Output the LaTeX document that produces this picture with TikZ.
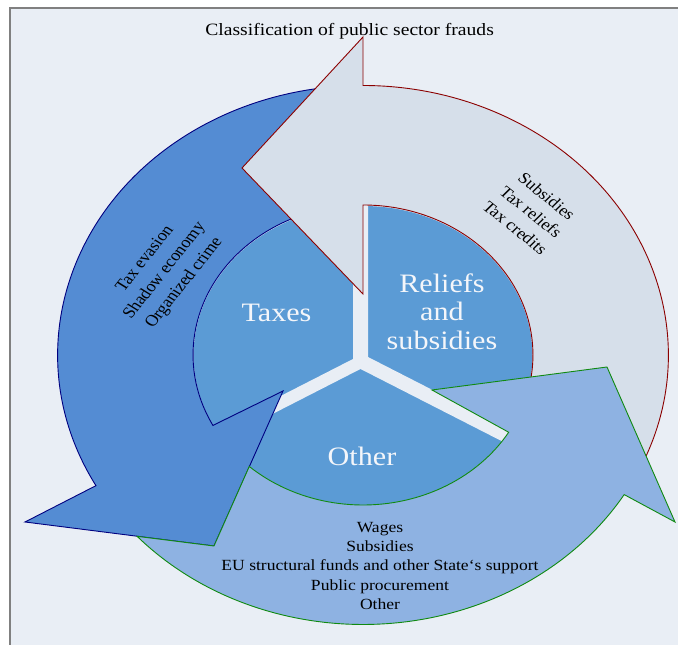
\documentclass[tikz,border=0pt]{standalone}
\usepackage{fontspec}
\setmainfont{Liberation Serif}
\definecolor{bgc}{HTML}{E9EEF5}
\definecolor{framec}{HTML}{808080}
\definecolor{sectc}{HTML}{5B9BD5}
\definecolor{bluefill}{HTML}{548CD3}
\definecolor{blueline}{HTML}{000080}
\definecolor{redfill}{HTML}{D6DFEA}
\definecolor{redline}{HTML}{8B0000}
\definecolor{greenfill}{HTML}{8EB2E2}
\definecolor{greenline}{HTML}{108A10}
\definecolor{sectext}{HTML}{F4F6FA}
\begin{document}
\begin{tikzpicture}[x=1pt,y=1pt,
  ringtext/.style={font=\fontsize{15.5}{19.2}\selectfont, align=center, text=black, inner sep=0pt, xscale=1.133},
  rottext/.style={font=\fontsize{16}{21}\selectfont, align=center, text=black, inner sep=0pt, xscale=1.133},
  bigtext/.style={font=\fontsize{26.6}{28.5}\selectfont, align=center, text=sectext, inner sep=0pt, xscale=1.133},
  arrowline/.style={line width=0.9pt, line join=miter}]
\useasboundingbox (0,0) rectangle (678,645);
% background and frame
\fill[white] (0,0) rectangle (678,645);
\fill[bgc] (10,0) rectangle (678,637);
\draw[framec, line width=1.5pt] (10,0) -- (10,637) -- (678,637);
% inner disk with three sectors
\fill[sectc] (363,289.5) ellipse [x radius=169.4, y radius=149.5];
\fill[bgc] (353,455) -- (353,286) -- (175,195) -- (182.5,185) -- (360.5,276)
  -- (538.7,185) -- (546,197) -- (368,288) -- (368,455) -- cycle;
% blue arrow (taxes)
\filldraw[arrowline, fill=bluefill, draw=blueline]
  ({363+169.95*cos(91)},{290+150*sin(91)})
  arc[start angle=91, end angle=208, x radius=169.95, y radius=150]
  -- (283,254) -- (214,99) -- (25,123)
  -- ({363+305.34*cos(209)},{290+269.5*sin(209)})
  arc[start angle=209, end angle=91, x radius=305.34, y radius=269.5]
  -- cycle;
% red arrow (reliefs)
\filldraw[arrowline, fill=redfill, draw=redline]
  (363,608) -- (242,477) -- (363,351) -- (363,440)
  arc[start angle=90, end angle=-28, x radius=169.95, y radius=150]
  -- ({363+305.34*cos(-28)},{290+269.5*sin(-28)})
  arc[start angle=-28, end angle=90, x radius=305.34, y radius=269.5]
  -- cycle;
% green arrow (other)
\filldraw[arrowline, fill=greenfill, draw=greenline]
  ({363+169.95*cos(228)},{290+150*sin(228)})
  arc[start angle=228, end angle=329, x radius=169.95, y radius=150]
  -- (432,255) -- (607,278) -- (675,123)
  -- ({363+305.34*cos(328.8)},{290+269.5*sin(328.8)})
  arc[start angle=328.8, end angle=222.3, x radius=305.34, y radius=269.5]
  -- (214,99) -- cycle;
% texts
\node[font=\fontsize{17.3}{20}\selectfont, inner sep=0pt, xscale=1.133] (title) at (349.6,614.1) {Classification of public sector frauds};
\node[bigtext] (taxes) at (276.5,332.4) {Taxes};
\node[bigtext] (reliefs) at (442,333.5) {Reliefs\\and\\subsidies};
\node[bigtext] (other) at (362,188.4) {Other};
\node[rottext, rotate=55] (taxlist) at (165,374) {Tax evasion\\Shadow economy\\Organized crime};
\node[rottext, rotate=-42] (relieflist) at (531,433) {Subsidies\\Tax reliefs\\Tax credits};
\node[ringtext] (otherlist) at (380,79) {Wages\\Subsidies\\EU structural funds and other State‘s support\\Public procurement\\Other};
\end{tikzpicture}
\end{document}
